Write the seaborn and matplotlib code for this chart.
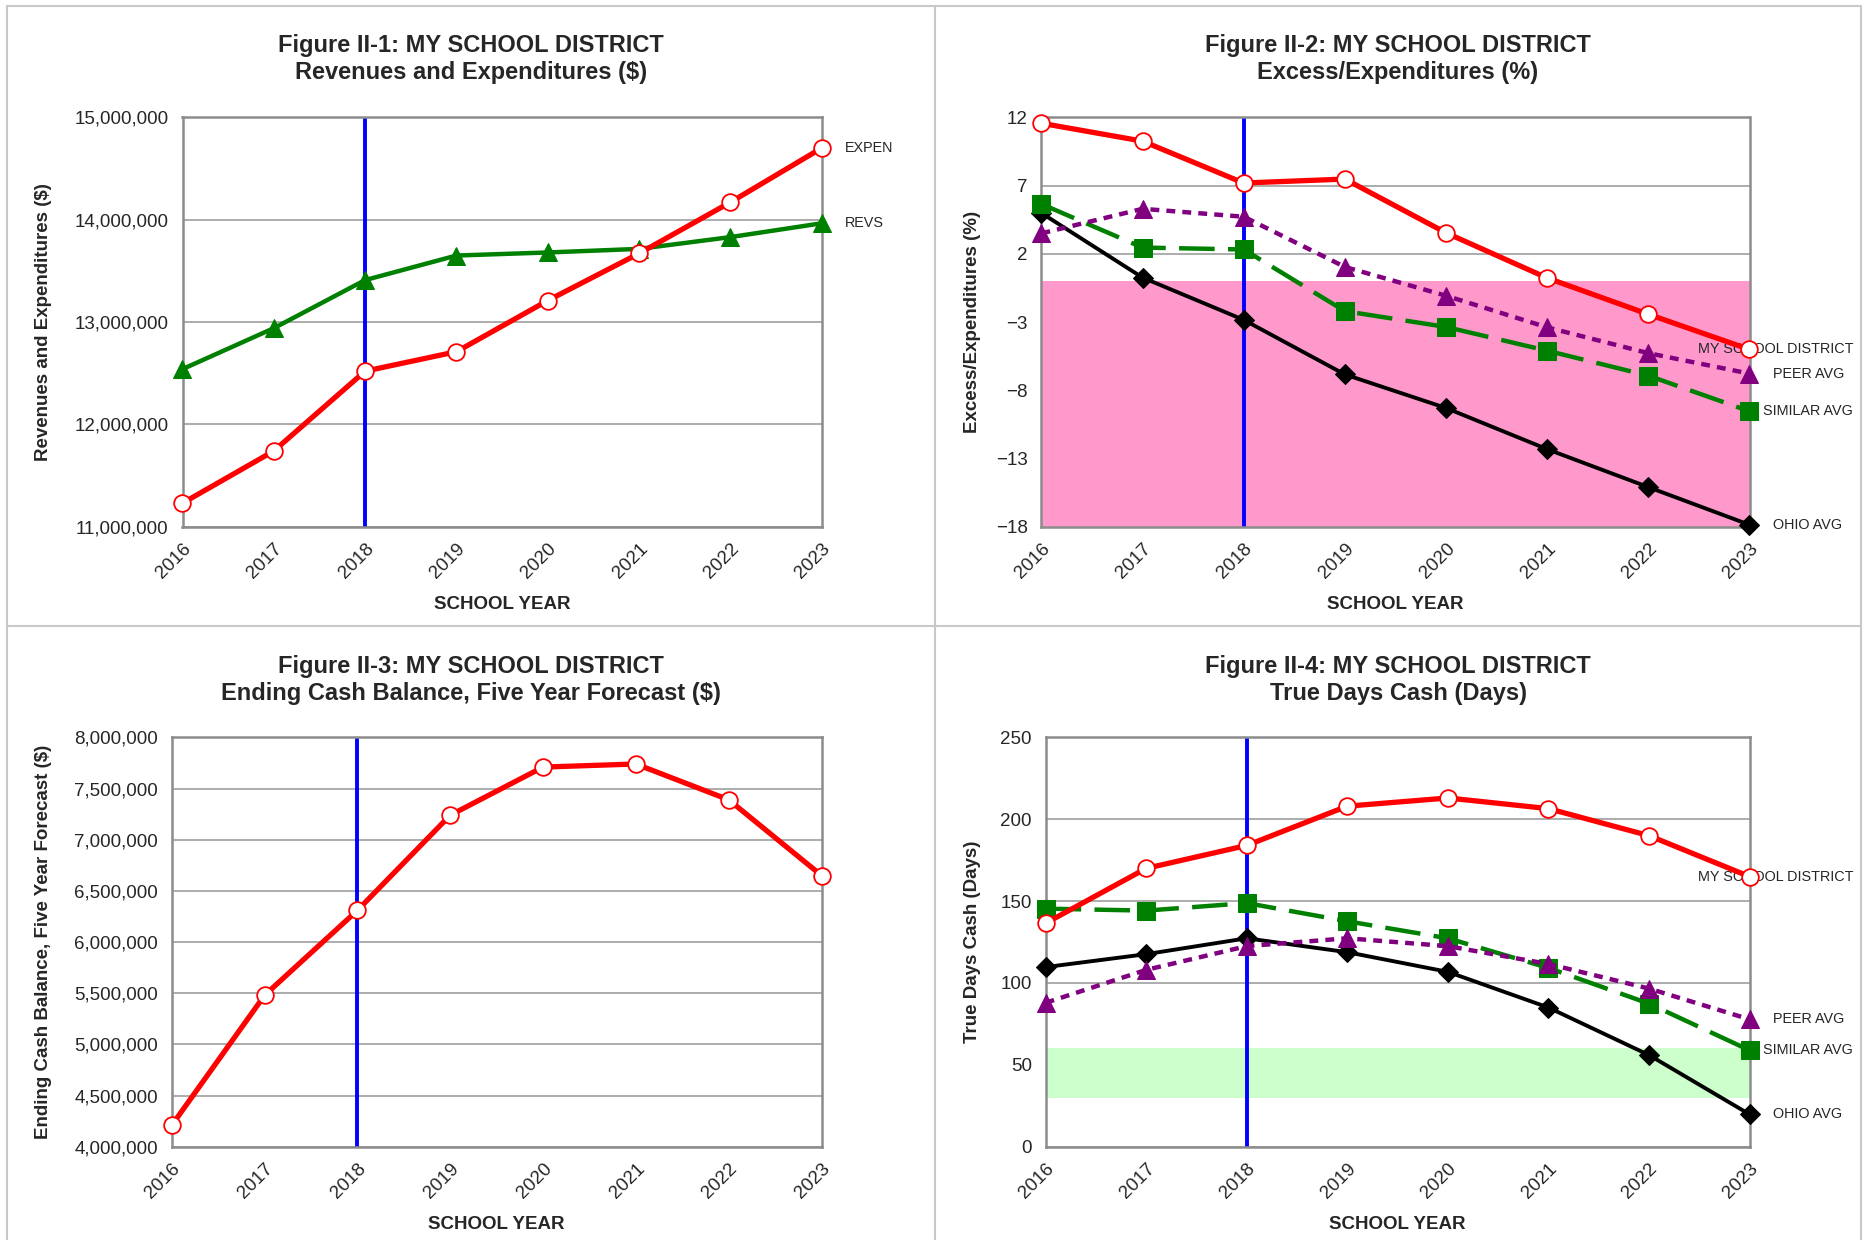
import numpy as np
import pandas as pd
import matplotlib
matplotlib.use('Agg')
import matplotlib.pyplot as plt
import matplotlib.ticker as mticker
from matplotlib.lines import Line2D
import seaborn as sns

years = [2016, 2017, 2018, 2019, 2020, 2021, 2022, 2023]

# Figure II-1 revenues / expenditures ($)
expen = [11230000, 11740000, 12520000, 12710000, 13210000, 13670000, 14170000, 14700000]
revs = [12540000, 12940000, 13410000, 13650000, 13680000, 13715000, 13830000, 13965000]

# Figure II-2 excess / expenditures (%)
excess_district = [11.57, 10.26, 7.19, 7.48, 3.54, 0.23, -2.43, -5.01]
excess_peer = [3.5, 5.3, 4.72, 1.04, -1.07, -3.39, -5.28, -6.78]
excess_similar = [5.65, 2.46, 2.32, -2.2, -3.36, -5.1, -6.93, -9.54]
excess_ohio = [4.99, 0.26, -2.84, -6.84, -9.3, -12.32, -15.1, -17.86]

# Figure II-3 ending cash balance ($)
cash_balance = [4210000, 5480000, 6310000, 7240000, 7710000, 7740000, 7390000, 6650000]

# Figure II-4 true days cash
days_district = [136.5, 170, 184, 208, 213, 206.5, 190, 165]
days_peer = [87.9, 108, 122.5, 127.3, 122.5, 111.6, 96.6, 77.8]
days_similar = [145.4, 144.2, 148.8, 137.7, 127.3, 109.2, 87.4, 58.9]
days_ohio = [109.7, 117.6, 127.3, 118.8, 106.8, 85, 56, 19.8]

forecast_year = 2018

sns.set_style('white')
plt.rcParams['font.family'] = ['Liberation Sans', 'DejaVu Sans']

W, H = 1864, 1240
fig = plt.figure(figsize=(W / 100, H / 100), dpi=100)

GRID = '#a6a6a6'
SPINE = '#8c8c8c'

styles = {
    'district': dict(color='#ff0000', linewidth=3.8, marker='o', markersize=12,
                     markerfacecolor='white', markeredgecolor='#ff0000', markeredgewidth=1.3),
    'revs': dict(color='#008000', linewidth=3.2, marker='^', markersize=12.5,
                 markerfacecolor='#008000', markeredgecolor='#008000'),
    'peer': dict(color='#800080', linewidth=3.2, linestyle=(0, (2, 1.6)), marker='^',
                 markersize=13, markerfacecolor='#800080', markeredgecolor='#800080'),
    'similar': dict(color='#008000', linewidth=3.2, linestyle=(0, (8, 3)), marker='s',
                    markersize=13, markerfacecolor='#008000', markeredgecolor='#008000'),
    'ohio': dict(color='black', linewidth=2.8, marker='D', markersize=10,
                 markerfacecolor='black', markeredgecolor='black'),
}


def px_axes(left, top, right, bottom):
    return fig.add_axes([left / W, 1 - bottom / H, (right - left) / W, (bottom - top) / H])


def setup(ax, ylim, ystep, ylabel, ylab_x, money=False):
    ax.set_xlim(2016, 2023)
    ax.set_ylim(*ylim)
    ax.set_xticks(years)
    ax.set_yticks(np.arange(ylim[0], ylim[1] + ystep / 2, ystep))
    if money:
        ax.yaxis.set_major_formatter(mticker.FuncFormatter(lambda v, p: f'{v:,.0f}'))
    ax.grid(axis='y', color=GRID, linewidth=1.3, zorder=0)
    ax.grid(axis='x', visible=False)
    ax.set_axisbelow(True)
    for s in ax.spines.values():
        s.set_color(SPINE)
        s.set_linewidth(1.8)
    ax.tick_params(direction='out', length=5, width=1.2, color=SPINE, labelsize=13.5, pad=5)
    plt.setp(ax.get_xticklabels(), rotation=45, ha='right', rotation_mode='anchor')
    ax.set_ylabel(ylabel, fontsize=13.5, fontweight='bold')
    ax.yaxis.set_label_coords(ylab_x, 0.5)
    ax.set_xlabel('SCHOOL YEAR', fontsize=13.5, fontweight='bold')
    ax.xaxis.set_label_coords(0.5, -0.17)
    ax.axvline(forecast_year, color='#0000ff', linewidth=2.8, zorder=2)


def series(ax, vals, key, label=None, dx=17):
    sns.lineplot(x=years, y=vals, ax=ax, clip_on=False, zorder=4, **styles[key])
    if label:
        ax.annotate(label, xy=(years[-1], vals[-1]), xytext=(dx, 0), textcoords='offset points',
                    ha='left', va='center', fontsize=10.4, annotation_clip=False)


# Figure II-1
ax1 = px_axes(182.5, 117.4, 821.6, 526.7)
setup(ax1, (11000000, 15000000), 1000000, 'Revenues and Expenditures ($)', -0.204, money=True)
series(ax1, revs, 'revs', 'REVS')
series(ax1, expen, 'district', 'EXPEN')

# Figure II-2
ax2 = px_axes(1041.4, 117.4, 1749.5, 526.7)
setup(ax2, (-18, 12), 5, 'Excess/Expenditures (%)', -0.085)
ax2.axhspan(-18, 0, color='#ff99cc', zorder=1, linewidth=0)
series(ax2, excess_ohio, 'ohio', 'OHIO AVG')
series(ax2, excess_similar, 'similar', 'SIMILAR AVG', dx=10)
series(ax2, excess_peer, 'peer', 'PEER AVG')
series(ax2, excess_district, 'district', 'MY SCHOOL DISTRICT', dx=-37)

# Figure II-3
ax3 = px_axes(171.8, 737.4, 821.6, 1146.7)
setup(ax3, (4000000, 8000000), 500000, 'Ending Cash Balance, Five Year Forecast ($)', -0.184, money=True)
series(ax3, cash_balance, 'district')

# Figure II-4
ax4 = px_axes(1045.6, 737.4, 1749.5, 1146.7)
setup(ax4, (0, 250), 50, 'True Days Cash (Days)', -0.092)
ax4.axhspan(30, 60, color='#ccffcc', zorder=1, linewidth=0)
series(ax4, days_ohio, 'ohio', 'OHIO AVG')
series(ax4, days_similar, 'similar', 'SIMILAR AVG', dx=10)
series(ax4, days_peer, 'peer', 'PEER AVG')
series(ax4, days_district, 'district', 'MY SCHOOL DISTRICT', dx=-37)

titles = [
    (471, 59, 'Figure II-1: MY SCHOOL DISTRICT\nRevenues and Expenditures ($)'),
    (1398, 59, 'Figure II-2: MY SCHOOL DISTRICT\nExcess/Expenditures (%)'),
    (471, 680, 'Figure II-3: MY SCHOOL DISTRICT\nEnding Cash Balance, Five Year Forecast ($)'),
    (1398, 680, 'Figure II-4: MY SCHOOL DISTRICT\nTrue Days Cash (Days)'),
]
for x, y, t in titles:
    fig.text(x / W, 1 - y / H, t, ha='center', va='center', fontsize=17,
             fontweight='bold', linespacing=1.2)

# panel frames
frame_kw = dict(color='#c8c8c8', linewidth=1.5, transform=fig.transFigure)
for x0, x1, y0 in [(7, 1861, 6), (7, 1861, 626)]:
    fig.add_artist(Line2D([x0 / W, x1 / W], [1 - y0 / H, 1 - y0 / H], **frame_kw))
for x in [7, 935, 1861]:
    fig.add_artist(Line2D([x / W, x / W], [1 - 6 / H, 0], **frame_kw))

fig.savefig('out.png', dpi=100, facecolor='white')
